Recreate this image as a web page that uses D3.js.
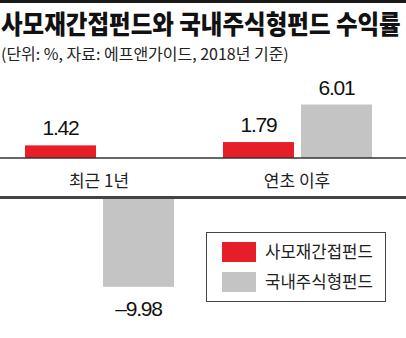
<!DOCTYPE html>
<html><head><meta charset="utf-8">
<script src="https://cdn.jsdelivr.net/npm/d3@7"></script>
<style>body{margin:0;background:#fff}svg{display:block}</style>
</head><body>
<script>
const categories = ["최근 1년", "연초 이후"];
const seriesNames = ["사모재간접펀드", "국내주식형펀드"];
const privateFund = [1.42, 1.79];
const domesticFund = [-9.98, 6.01];
const colors = ["#e61e27", "#c4c4c4"];
const titleText = "사모재간접펀드와 국내주식형펀드 수익률";
const subtitleText = "(단위: %, 자료: 에프앤가이드, 2018년 기준)";

const W = 406, H = 338;
const svg = d3.select("body").append("svg").attr("width", W).attr("height", H);
const font = "'Noto Sans CJK KR', 'Noto Sans', sans-serif";

function fitText(sel, x, y, width) {
  const natural = sel.node().getComputedTextLength();
  sel.attr("transform", `translate(${x},${y}) scale(${width / natural},1)`);
  return sel;
}

svg.append("rect").attr("x", 0).attr("y", 0).attr("width", W).attr("height", 3).attr("fill", "#1a1a1a");
const title = svg.append("text").attr("font-family", font).attr("font-weight", 900)
  .attr("font-size", 26).attr("fill", "#111").text(titleText);
fitText(title, 1, 34, 400);
const sub = svg.append("text").attr("font-family", font).attr("font-weight", 400)
  .attr("font-size", 15.5).attr("fill", "#222").text(subtitleText);
fitText(sub, 1, 60, 288);

const data = categories.map((c, i) => ({cat: c, values: [privateFund[i], domesticFund[i]]}));

const x0 = d3.scaleBand().domain(categories).range([0, 396]);
const x1 = d3.scaleBand().domain(seriesNames).range([25, 174]).paddingInner(0.09);

const zeroY = 158, negY = 198, k = 8.9;
const yPos = d3.scaleLinear().domain([0, 6.01]).range([zeroY, zeroY - 6.01 * k]);
const yNeg = d3.scaleLinear().domain([0, -9.98]).range([negY, negY + 9.98 * k]);

const g = svg.append("g");
data.forEach(d => {
  d.values.forEach((v, j) => {
    const x = x0(d.cat) + x1(seriesNames[j]);
    const w = x1.bandwidth();
    let y, h, ly;
    if (v >= 0) { y = yPos(v); h = zeroY - y; ly = y - 10; }
    else { y = negY; h = yNeg(v) - negY; ly = y + h + 29; }
    g.append("rect").attr("x", x).attr("y", y).attr("width", w).attr("height", h).attr("fill", colors[j]);
    g.append("text").attr("x", x + w / 2).attr("y", ly).attr("text-anchor", "middle")
      .attr("font-family", "'Liberation Sans', Arial, sans-serif").attr("font-size", 21)
      .attr("letter-spacing", -1.2).attr("fill", "#111")
      .text(v < 0 ? "\u2013" + Math.abs(v).toFixed(2) : v.toFixed(2));
  });
});

// axis line
svg.append("line").attr("x1", 0).attr("x2", W).attr("y1", zeroY).attr("y2", zeroY)
  .attr("stroke", "#333").attr("stroke-width", 1.5);
// category labels
const xAxis = d3.axisBottom(x0).tickSize(0).tickPadding(0);
const ax = svg.append("g").attr("transform", `translate(0,${zeroY})`).call(xAxis);
ax.select(".domain").remove();
ax.selectAll("text").attr("font-family", font).attr("font-size", 17).attr("fill", "#222")
  .attr("dy", null).attr("y", 29);
// bottom divider
svg.append("rect").attr("x", 0).attr("y", negY - 2).attr("width", W).attr("height", 3).attr("fill", "#444");

// legend
const lg = svg.append("g");
lg.append("rect").attr("x", 206.5).attr("y", 232.5).attr("width", 179).attr("height", 69)
  .attr("fill", "#fff").attr("stroke", "#444").attr("stroke-width", 1);
seriesNames.forEach((s, i) => {
  const yy = 242 + i * 30;
  lg.append("rect").attr("x", 222).attr("y", yy).attr("width", 34).attr("height", 20).attr("fill", colors[i]);
  const t = lg.append("text").attr("font-family", font).attr("font-size", 17)
    .attr("fill", "#222").text(s);
  fitText(t, 265, yy + 16, 108);
});
</script>
</body></html>
